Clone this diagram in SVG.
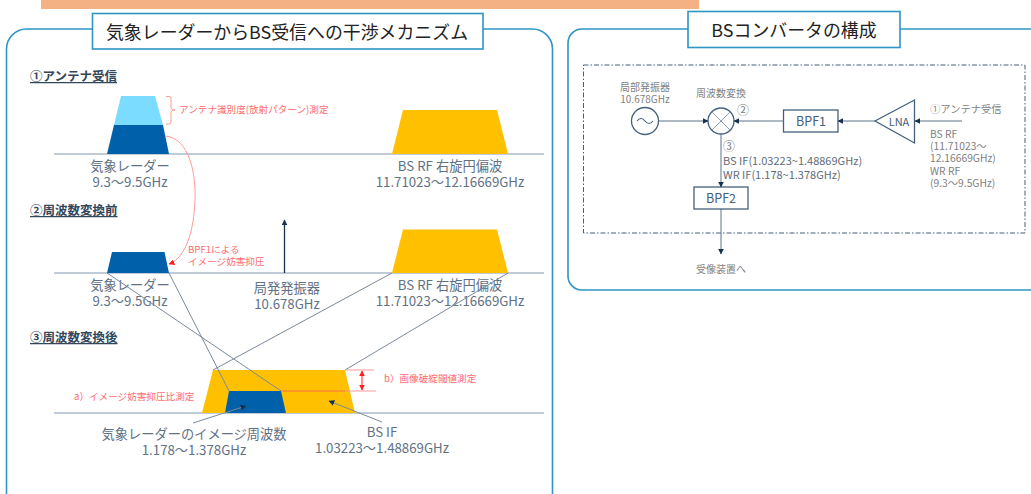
<svg xmlns="http://www.w3.org/2000/svg" width="1031" height="494" viewBox="0 0 1031 494">
<style>
text{font-family:"Noto Sans CJK JP","Noto Sans",sans-serif}
.panel{fill:#fff;stroke:#2E95C4;stroke-width:1.6}
.ttl{fill:#fff;stroke:#2E95C4;stroke-width:1.6}
.tt{font-size:17.9px;fill:#222;text-anchor:middle}
.h{font-size:12.5px;font-weight:700;fill:#33475B;text-decoration:underline}
.l{font-size:13.25px;fill:#5F7184;text-anchor:middle}
.r{font-size:9.6px;fill:#FF6B70}
.base{stroke:#ADB9CA;stroke-width:1.6;fill:none}
.cross{stroke:#7A8A9A;stroke-width:1;fill:none}
.rl{stroke:#FF9999;stroke-width:1;fill:none}
.wire{stroke:#5B7288;stroke-width:1;fill:none}
.box{fill:#fff;stroke:#44607C;stroke-width:1.3}
.bt{font-size:12.5px;fill:#44607C;text-anchor:middle}
.s{font-size:10.3px;fill:#7F7F7F}
.n{font-size:12px;fill:#7F7F7F}
.sc{font-size:10px;fill:#7F7F7F;text-anchor:middle}
.d{font-size:11px;fill:#5F6B78}
.gold{fill:#FFC000}.blue{fill:#0061AA}
</style>
<defs>
<marker id="a" viewBox="0 0 10 10" refX="9" refY="5" markerWidth="6" markerHeight="6" orient="auto-start-reverse" markerUnits="userSpaceOnUse"><path d="M0 0L10 5L0 10z" fill="#17324F"/></marker>
<marker id="b" viewBox="0 0 10 10" refX="9" refY="5" markerWidth="6" markerHeight="6" orient="auto-start-reverse" markerUnits="userSpaceOnUse"><path d="M0 0L10 5L0 10z" fill="#FF2020"/></marker>
</defs>
<rect id="top-bar" x="41" y="0" width="658" height="9" fill="#F4B183"/>
<g id="panel-left">
<rect class="panel" x="6.500" y="29" width="546" height="490" rx="20"/>
<rect class="ttl" x="92.500" y="13.500" width="390.500" height="35.500"/>
<text class="tt" x="287" y="38.500">気象レーダーからBS受信への干渉メカニズム</text>
</g>
<g id="panel-right">
<rect class="panel" x="568" y="29" width="490" height="261" rx="14"/>
<rect class="ttl" x="688" y="11.500" width="212" height="36"/>
<text class="tt" x="794" y="36.500">BSコンバータの構成</text>
<rect x="583.500" y="65" width="441.500" height="168" fill="none" stroke="#44607C" stroke-width="1" stroke-dasharray="5 2 1.500 2"/>
</g>
<g id="row-1">
<text class="h" x="30" y="81">①アンテナ受信</text>
<path class="base" d="M54 154H544"/>
<path d="M121 96H155L163 125H114z" fill="#7BDCFF"/>
<path class="blue" d="M114 125H163L169 154H107z"/>
<path class="gold" d="M403 110H497L508 154H392z"/>
<text class="l" x="130" y="171">気象レーダー<tspan x="130" dy="16">9.3～9.5GHz</tspan></text>
<text class="l" x="450" y="171">BS RF 右旋円偏波<tspan x="450" dy="16">11.71023～12.16669GHz</tspan></text>
<path class="rl" d="M166 96.500h3q2 0 2 2V108q0 2 4 2q-4 0-4 2V122q0 2-2 2h-3"/>
<text class="r" x="179" y="113">アンテナ識別度(放射パターン)測定</text>
</g>
<g id="row-2">
<text class="h" x="30" y="215">②周波数変換前</text>
<path class="base" d="M54 273H544"/>
<path class="blue" d="M112 252H164.500L169 273H107z"/>
<path class="gold" d="M403 229.500H497L508 273H392z"/>
<text class="l" x="130" y="290">気象レーダー<tspan x="130" dy="16">9.3～9.5GHz</tspan></text>
<text class="l" x="287" y="293">局発発振器<tspan x="287" dy="16">10.678GHz</tspan></text>
<text class="l" x="450" y="290">BS RF 右旋円偏波<tspan x="450" dy="16">11.71023～12.16669GHz</tspan></text>
<text class="r" x="188" y="253">BPF1による<tspan x="188" dy="12">イメージ妨害抑圧</tspan></text>
</g>
<g id="row-3">
<text class="h" x="30" y="342">③周波数変換後</text>
<path class="base" d="M54 413H544"/>
<path class="gold" d="M213 370H345L355 413H202z"/>
<path class="blue" d="M229 391H281L286 413H225z"/>
<text class="l" x="194" y="439">気象レーダーのイメージ周波数<tspan x="194" dy="16">1.178～1.378GHz</tspan></text>
<text class="l" x="382" y="437">BS IF<tspan x="382" dy="16">1.03223～1.48869GHz</tspan></text>
<text class="r" x="74" y="400">a）イメージ妨害抑圧比測定</text>
<text class="r" x="384" y="382">b）画像破綻閾値測定</text>
</g>
<g id="converter">
<g id="osc"><circle class="box" cx="645" cy="121" r="13.500"/><path d="M637 121q4-5 8 0t8 0" fill="none" stroke="#44607C" stroke-width="1.200"/>
<text class="sc" x="645" y="91">局部発振器<tspan x="645" dy="12">10.678GHz</tspan></text></g>
<g id="mixer"><circle class="box" cx="721" cy="121" r="13"/><path d="M712 112L730 130M730 112L712 130" stroke="#8FA0B2" stroke-width="1"/>
<text class="sc" x="721" y="97">周波数変換</text></g>
<g id="bpf1"><rect class="box" x="783.500" y="110" width="54.500" height="22"/><text class="bt" x="811" y="125.500">BPF1</text></g>
<g id="bpf2"><rect class="box" x="694" y="187" width="54" height="22"/><text class="bt" x="721" y="202.500">BPF2</text></g>
<g id="lna"><path class="box" d="M875 121L914.500 100V143z"/><text x="899" y="125.500" font-size="11" fill="#44607C" text-anchor="middle">LNA</text></g>
<text class="n" x="737" y="115">②</text>
<text class="n" x="723" y="151">③</text>
<text class="d" x="723" y="165">BS IF(1.03223~1.48869GHz)<tspan x="723" dy="14">WR IF(1.178~1.378GHz)</tspan></text>
<text class="sc" x="721" y="273">受像装置へ</text>
<text class="s" x="930" y="113">①アンテナ受信</text>
<text class="s" x="930" y="138">BS RF<tspan x="930" dy="12.200">(11.71023～</tspan><tspan x="930" dy="12.200">12.16669GHz)</tspan><tspan x="930" dy="12.200">WR RF</tspan><tspan x="930" dy="12.200">(9.3～9.5GHz)</tspan></text>
</g>
<g id="connectors">
<path class="cross" d="M107 273L281 391M169 273L229 391M392 273L213 370M508 273L345 370"/>
<path d="M284.500 273V220" fill="none" stroke="#17324F" stroke-width="1.300" marker-end="url(#a)"/>
<path class="rl" d="M165 136C190 138 196 175 195 200C194 230 186 258 169 264" marker-end="url(#b)"/>
<path d="M281 391H376M345 370H374" fill="none" stroke="#FF9999" stroke-width="1"/>
<path d="M281 391H345" fill="none" stroke="#FF8000" stroke-width="1"/>
<path d="M362 371V390" fill="none" stroke="#FF2020" stroke-width="1" marker-start="url(#b)" marker-end="url(#b)"/>
<path d="M193 423L246 406" fill="none" stroke="#7A8A9A" stroke-width="1" marker-end="url(#a)"/>
<path d="M382 422L329 401" fill="none" stroke="#7A8A9A" stroke-width="1" marker-end="url(#a)"/>
<path class="wire" d="M658.500 121H708" marker-end="url(#a)"/>
<path class="wire" d="M783.500 121H734" marker-end="url(#a)"/>
<path class="wire" d="M875 121H838" marker-end="url(#a)"/>
<path class="wire" d="M962 121H915" marker-end="url(#a)"/>
<path class="wire" d="M721 134V187" marker-end="url(#a)"/>
<path class="wire" d="M721 209V254" marker-end="url(#a)"/>
</g>
</svg>
